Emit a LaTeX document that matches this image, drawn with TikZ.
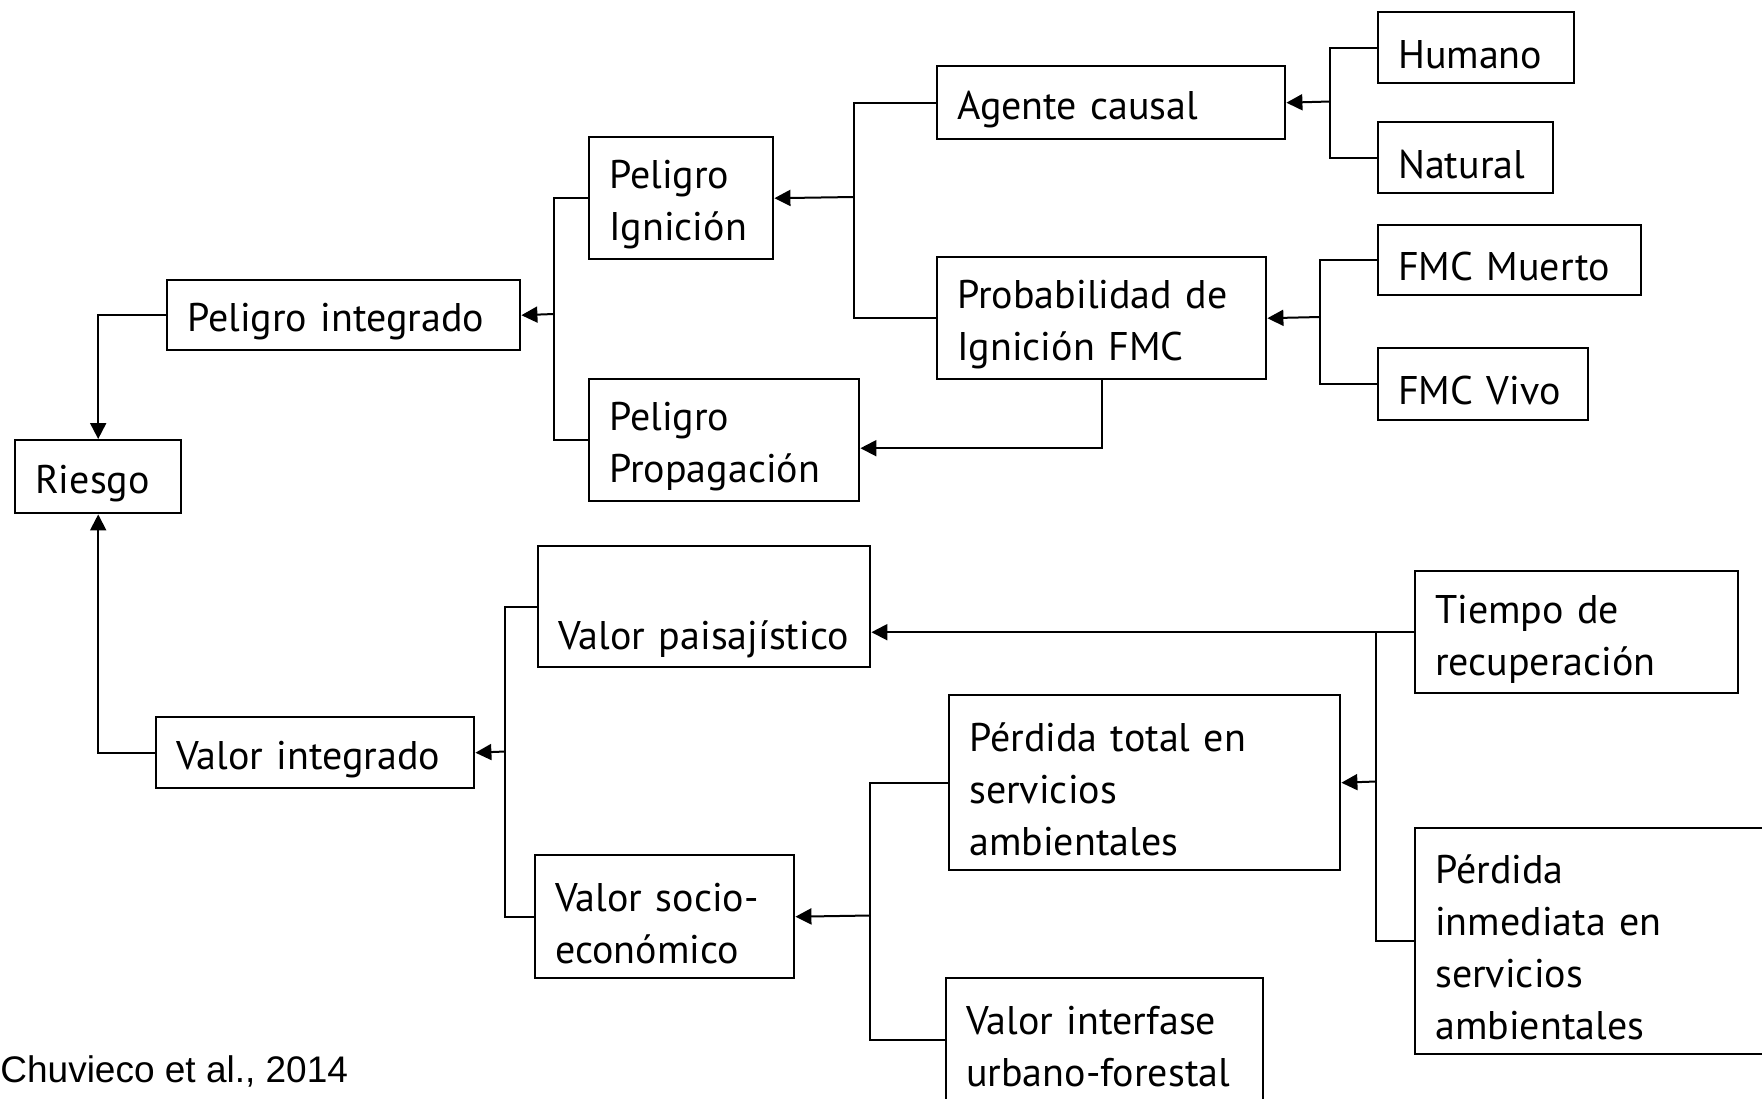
\documentclass[tikz,border=0pt]{standalone}
\usepackage{fontspec}
\setmainfont{PT Sans}
\newfontfamily\citafont{Liberation Sans}
\usetikzlibrary{arrows.meta}

\begin{document}
\begin{tikzpicture}[x=.5pt, y=-.5pt,
    caja/.style={draw, line width=1.2pt, anchor=north west, align=left,
        inner xsep=10pt, inner ysep=0pt, font=\fontsize{20}{26}\selectfont,
        execute at begin node={\rule{0pt}{21pt}}},
    linea/.style={line width=1pt},
    flecha/.style={line width=1pt, -{Triangle[length=8pt,width=8pt]}}]

    \useasboundingbox (0,0) rectangle (1762,1098);
    \clip (0,0) rectangle (1762,1098);

    % Riesgo
    \node[caja, minimum width=83pt, minimum height=36.5pt, text width=63pt] (riesgo) at (14,439) {Riesgo};

    % Peligro
    \node[caja, minimum width=176.5pt, minimum height=35pt, text width=156.5pt] (pint) at (166,279) {Peligro integrado};
    \node[caja, minimum width=92pt, minimum height=61pt, text width=72pt] (pign) at (588,136) {Peligro\\Ignición};
    \node[caja, minimum width=135pt, minimum height=61pt, text width=115pt] (pprop) at (588,378) {Peligro\\Propagación};
    \node[caja, minimum width=174pt, minimum height=36.5pt, text width=154pt] (agente) at (936,65) {Agente causal};
    \node[caja, minimum width=164.5pt, minimum height=61pt, text width=144.5pt] (prob) at (936,256) {Probabilidad de\\Ignición FMC};
    \node[caja, minimum width=98pt, minimum height=35.5pt, text width=78pt] (humano) at (1377,11) {Humano};
    \node[caja, minimum width=87.5pt, minimum height=35.5pt, text width=67.5pt] (natural) at (1377,121) {Natural};
    \node[caja, minimum width=131.5pt, minimum height=35pt, text width=111.5pt] (fmcm) at (1377,224) {FMC Muerto};
    \node[caja, minimum width=105pt, minimum height=36pt, text width=85pt] (fmcv) at (1377,347) {FMC Vivo};

    % Valor
    \node[caja, minimum width=159pt, minimum height=35.5pt, text width=139pt] (vint) at (155,716) {Valor integrado};
    \node[caja, minimum width=166pt, minimum height=60.5pt, text width=146pt] (vpais) at (537,545) {\strut\\Valor paisajístico};
    \node[caja, minimum width=129.5pt, minimum height=61.5pt, text width=109.5pt] (vsoc) at (534,854) {Valor socio-\\económico};
    \node[caja, minimum width=195.5pt, minimum height=87.5pt, text width=175.5pt] (ptot) at (948,694) {Pérdida total en\\servicios\\ambientales};
    \node[caja, minimum width=158.5pt, minimum height=61.5pt, text width=138.5pt] (vinterf) at (945,977) {Valor interfase\\urbano-forestal};
    \node[caja, minimum width=161.5pt, minimum height=61pt, text width=141.5pt] (tiempo) at (1414,570) {Tiempo de\\recuperación};
    \node[caja, minimum width=178pt, minimum height=113pt, text width=158pt] (pinm) at (1414,827) {Pérdida\\inmediata en\\servicios\\ambientales};

    % junctions
    \coordinate (j1) at (554,314);
    \coordinate (j2) at (854,197);
    \coordinate (j3) at (1330,101.5);
    \coordinate (j4) at (1320,317);
    \coordinate (j5) at (505,751.5);
    \coordinate (j6) at (1376,781.5);
    \coordinate (j7) at (870,915.5);

    %relations
    \draw[flecha] (pint.west) -| (riesgo.north);
    \draw[flecha] (vint.west) -| (riesgo.south);

    \draw[linea] (pign.west) -| (j1) |- (pprop.west);
    \draw[flecha] (j1) -- (pint.east);
    \draw[linea] (agente.west) -| (j2) |- (prob.west);
    \draw[flecha] (j2) -- (pign.east);
    \draw[linea] (humano.west) -| (j3) |- (natural.west);
    \draw[flecha] (j3) -- (agente.east);
    \draw[linea] (fmcm.west) -| (j4) |- (fmcv.west);
    \draw[flecha] (j4) -- (prob.east);
    \draw[flecha] (prob.south) |- ([yshift=-4pt]pprop.east);

    \draw[linea] (vpais.west) -| (j5) |- (vsoc.west);
    \draw[flecha] (j5) -- (vint.east);
    \draw[flecha] (tiempo.west) -- (vpais.east |- tiempo.west);
    \draw[linea] (tiempo.west) -| (j6) |- (pinm.west);
    \draw[flecha] (j6) -- (ptot.east);
    \draw[linea] (ptot.west) -| (j7) |- (vinterf.west);
    \draw[flecha] (j7) -- (vsoc.east);

    %source
    \node[anchor=base west, inner sep=0pt, font=\citafont\fontsize{18.5}{22}\selectfont] (cita) at (0,1082) {Chuvieco et al., 2014};
\end{tikzpicture}
\end{document}
